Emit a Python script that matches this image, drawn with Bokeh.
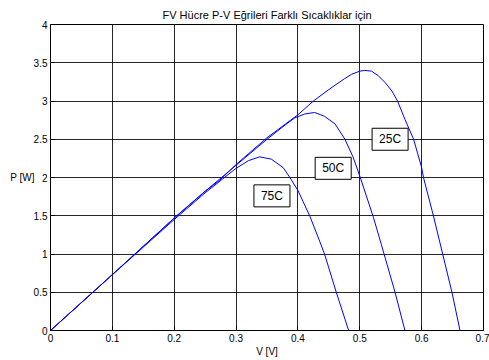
from bokeh.plotting import figure
from bokeh.models import Label, FixedTicker, Range1d
from bokeh.embed import file_html
from bokeh.resources import INLINE

# Data
v_25 = [0, 0.05, 0.1, 0.15, 0.2, 0.25, 0.273, 0.3, 0.35, 0.4, 0.425, 0.45, 0.475, 0.487, 0.5,
        0.508, 0.519, 0.53, 0.541, 0.552, 0.561, 0.573, 0.587, 0.6, 0.603, 0.619, 0.634, 0.649, 0.662]
p_25 = [0, 0.365, 0.73, 1.10, 1.47, 1.82, 1.96, 2.17, 2.52, 2.82, 3.0, 3.15, 3.29, 3.35, 3.39,
        3.40, 3.39, 3.33, 3.24, 3.13, 3.0, 2.76, 2.5, 2.13, 2.0, 1.5, 1.0, 0.5, 0]

v_50 = [0, 0.05, 0.1, 0.15, 0.2, 0.25, 0.3, 0.35, 0.38, 0.395, 0.411, 0.427, 0.443, 0.46,
        0.476, 0.489, 0.5, 0.522, 0.535, 0.557, 0.573]
p_50 = [0, 0.365, 0.73, 1.10, 1.47, 1.82, 2.16, 2.50, 2.69, 2.78, 2.83, 2.85, 2.80, 2.70,
        2.50, 2.27, 2.02, 1.48, 1.12, 0.5, 0]

v_75 = [0, 0.05, 0.1, 0.15, 0.2, 0.25, 0.3, 0.32, 0.338, 0.357, 0.376, 0.387, 0.4,
        0.408, 0.419, 0.435, 0.443, 0.462, 0.482]
p_75 = [0, 0.365, 0.73, 1.09, 1.45, 1.80, 2.12, 2.22, 2.27, 2.24, 2.13, 2.0, 1.83,
        1.69, 1.5, 1.17, 1.0, 0.5, 0]

curve_labels = ["25C", "50C", "75C"]
label_v = [0.549, 0.457, 0.358]
label_p = [2.50, 2.12, 1.76]

x_ticks = [0, 0.1, 0.2, 0.3, 0.4, 0.5, 0.6, 0.7]
x_tick_labels = ["0", "0.1", "0.2", "0.3", "0.4", "0.5", "0.6", "0.7"]
y_ticks = [0, 0.5, 1, 1.5, 2, 2.5, 3, 3.5, 4]
y_tick_labels = ["0", "0.5", "1", "1.5", "2", "2.5", "3", "3.5", "4"]

FONT = "Liberation Sans"

p = figure(width=489, height=360, output_backend="svg", toolbar_location=None,
           x_range=Range1d(0, 0.7), y_range=Range1d(0, 4),
           title="FV Hücre P-V Eğrileri Farklı Sıcaklıklar için",
           min_border_left=50, min_border_right=6, min_border_top=24, min_border_bottom=30)

p.title.align = "center"
p.title.text_font = FONT
p.title.text_font_size = "11px"
p.title.text_font_style = "normal"
p.title.text_color = "black"
p.title.offset = 0
p.title.standoff = 7

p.outline_line_color = "black"
p.outline_line_width = 1
p.outline_line_alpha = 1

for ax in (p.xaxis[0], p.yaxis[0]):
    ax.major_label_text_font = FONT
    ax.major_label_text_font_size = "10px"
    ax.major_label_text_color = "black"
    ax.axis_label_text_font = FONT
    ax.axis_label_text_font_size = "10px"
    ax.axis_label_text_font_style = "normal"
    ax.axis_label_text_color = "black"
    ax.major_tick_in = 4
    ax.major_tick_out = 0
    ax.minor_tick_line_color = None
    ax.axis_line_color = "black"
    ax.major_tick_line_color = "black"
    ax.major_label_standoff = 3

p.xaxis[0].ticker = FixedTicker(ticks=x_ticks)
p.xaxis[0].major_label_overrides = {t: s for t, s in zip(x_ticks, x_tick_labels)}
p.yaxis[0].ticker = FixedTicker(ticks=y_ticks)
p.yaxis[0].major_label_overrides = {t: s for t, s in zip(y_ticks, y_tick_labels)}
p.xaxis[0].axis_label = "V [V]"
p.yaxis[0].axis_label = "P [W]"
p.xaxis[0].axis_label_standoff = 1
p.yaxis[0].axis_label_standoff = -4
p.yaxis[0].axis_label_orientation = "horizontal"

p.xgrid.grid_line_color = "black"
p.ygrid.grid_line_color = "black"
p.xgrid.grid_line_alpha = 0.85
p.ygrid.grid_line_alpha = 0.85
p.xgrid.grid_line_width = 1
p.ygrid.grid_line_width = 1

for vs, ps in ((v_25, p_25), (v_50, p_50), (v_75, p_75)):
    p.line(vs, ps, line_color="#0000FF", line_width=1)

for txt, lv, lp in zip(curve_labels, label_v, label_p):
    p.add_layout(Label(x=lv, y=lp, text=txt, text_align="center", text_baseline="middle",
                       text_font=FONT, text_font_size="12px", text_color="black",
                       background_fill_color="white", border_line_color="black",
                       border_line_width=1, padding=(7, 4)))

open("out.html", "w").write(file_html(p, INLINE))
